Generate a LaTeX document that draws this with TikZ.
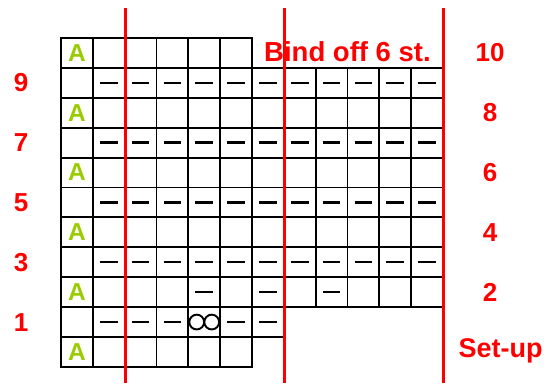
\documentclass[tikz,border=0pt]{standalone}
\usepackage{fontspec}
\setmainfont{Liberation Sans}
\definecolor{chartred}{RGB}{255,0,0}
\definecolor{chartgreen}{RGB}{153,204,0}

\begin{document}
\begin{tikzpicture}[
  x=1pt,
  y=-1pt,
  cell/.style={
    draw,
    line width=1.9pt,
    minimum width=31.83pt,
    minimum height=29.9pt,
    inner sep=0pt,
    outer sep=0pt
  },
  purl/.style={
    line width=2.4pt
  },
  twist/.style={
    line width=1.9pt
  },
  edgest/.style={
    text=chartgreen,
    font=\fontsize{24.5}{24.5}\selectfont\bfseries
  },
  rowno/.style={
    text=chartred,
    font=\fontsize{26}{26}\selectfont\bfseries,
    inner sep=0pt
  },
  guide/.style={
    draw=chartred,
    line width=3pt
  }
]
\useasboundingbox (0,0) rectangle (553,383);

% grid, row 0 on top (row 10) down to row 10 (set-up)
\foreach \r/\last in {0/5,1/11,2/11,3/11,4/11,5/11,6/11,7/11,8/11,9/6,10/5}
  \foreach \i in {0,...,\last}
    \node[cell] (c-\r-\i) at ({76.9+31.83*\i},{52.95+29.9*\r}) {};

% edge stitches
\foreach \r in {0,2,4,6,8,10}
  \node[edgest] (a-\r) at (c-\r-0) {A};

% purl rows
\foreach \r in {1,3,5,7}
  \foreach \i in {1,...,11}
    \draw[purl] ([xshift=-8.8pt]c-\r-\i.center) -- ([xshift=8.8pt]c-\r-\i.center);
\foreach \r/\i in {8/4,8/6,8/8,9/1,9/2,9/3,9/5,9/6}
  \draw[purl] ([xshift=-8.8pt]c-\r-\i.center) -- ([xshift=8.8pt]c-\r-\i.center);

% twisted stitch
\draw[twist] ([xshift=-7.5pt]c-9-4.center) circle (7.4pt)
  ([xshift=7.5pt]c-9-4.center) circle (7.4pt);

% row numbers
\foreach \r/\t in {1/9,3/7,5/5,7/3,9/1}
  \node[rowno] (l-\r) at (21,{52.95+29.9*\r}) {\t};
\foreach \r/\t in {0/10,2/8,4/6,6/4,8/2}
  \node[rowno] (r-\r) at (490,{52.95+29.9*\r}) {\t};
\node[rowno] (setup) at (500.5,351) {\fontsize{27}{27}\selectfont Set-up};
\node[rowno] (bind) at (347.5,52) {\fontsize{27.5}{27.5}\selectfont Bind off 6 st.};

% pattern repeat lines
\draw[guide] (125,8) -- (125,383);
\draw[guide] (284,8) -- (284,383);
\draw[guide] (443,8) -- (443,383);

\end{tikzpicture}
\end{document}
